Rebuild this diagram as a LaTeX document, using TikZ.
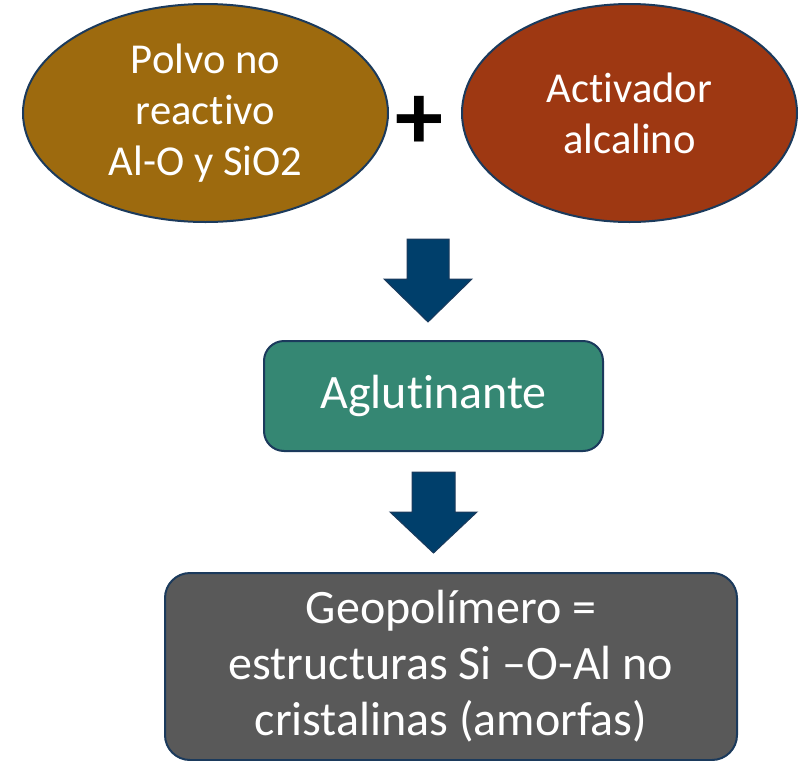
\documentclass[tikz,border=0pt]{standalone}
\usepackage{fontspec}
\setmainfont{Carlito}[Ligatures=NoCommon]
\usetikzlibrary{shapes,arrows,positioning}
\definecolor{navyline}{RGB}{27,58,92}
\definecolor{powder}{RGB}{157,106,14}
\definecolor{activ}{RGB}{158,56,18}
\definecolor{binder}{RGB}{53,135,115}
\definecolor{geo}{RGB}{89,89,89}
\definecolor{arrowblue}{RGB}{0,63,107}

\begin{document}
\begin{tikzpicture}[x=.5pt,y=-.5pt,
	blob/.style={ellipse,draw=navyline,line width=1pt,inner sep=0pt,text=white,align=center,font=\fontsize{21.3}{25.5}\selectfont},
	card/.style={rectangle,draw=navyline,line width=1pt,inner sep=0pt,text=white,align=center,font=\fontsize{24}{28}\selectfont},
	bigarrow/.style={fill=arrowblue,draw=navyline,line width=.5pt,line join=miter}]
	\useasboundingbox (0,0) rectangle (800,761);
	% starting materials
	\node[blob,fill=powder,minimum width=182.5pt,minimum height=109pt] (polvo) at (205.5,113) {Polvo no\\reactivo\\Al-O y SiO2};
	\node[blob,fill=activ,minimum width=167.5pt,minimum height=109pt] (activador) at (629.5,113) {Activador\\alcalino};
	\node[inner sep=0pt,font=\fontsize{48}{48}\selectfont\bfseries] (plus) at (419,122.5) {+};
	% products
	\node[card,fill=binder,rounded corners=10pt,minimum width=169.5pt,minimum height=55pt] (aglut) at (433.5,396) {Aglutinante};
	\node[card,fill=geo,rounded corners=12.5pt,minimum width=286pt,minimum height=93.5pt] (geopol) at (451,666.5) {Geopolímero =\\estructuras Si –O-Al no\\cristalinas (amorfas)};
	% block arrows
	\coordinate (topA) at (428,239);
	\coordinate (topB) at (433.5,472);
	\draw[bigarrow] (topA) ++(-21,0) -- ++(0,40) -- ++(-23,0) -- ++(44,43) -- ++(44,-43) -- ++(-23,0) -- ++(0,-40) -- cycle;
	\draw[bigarrow] (topB) ++(-21.5,0) -- ++(0,40) -- ++(-22,0) -- ++(43.5,41) -- ++(43.5,-41) -- ++(-22,0) -- ++(0,-40) -- cycle;
\end{tikzpicture}
\end{document}
